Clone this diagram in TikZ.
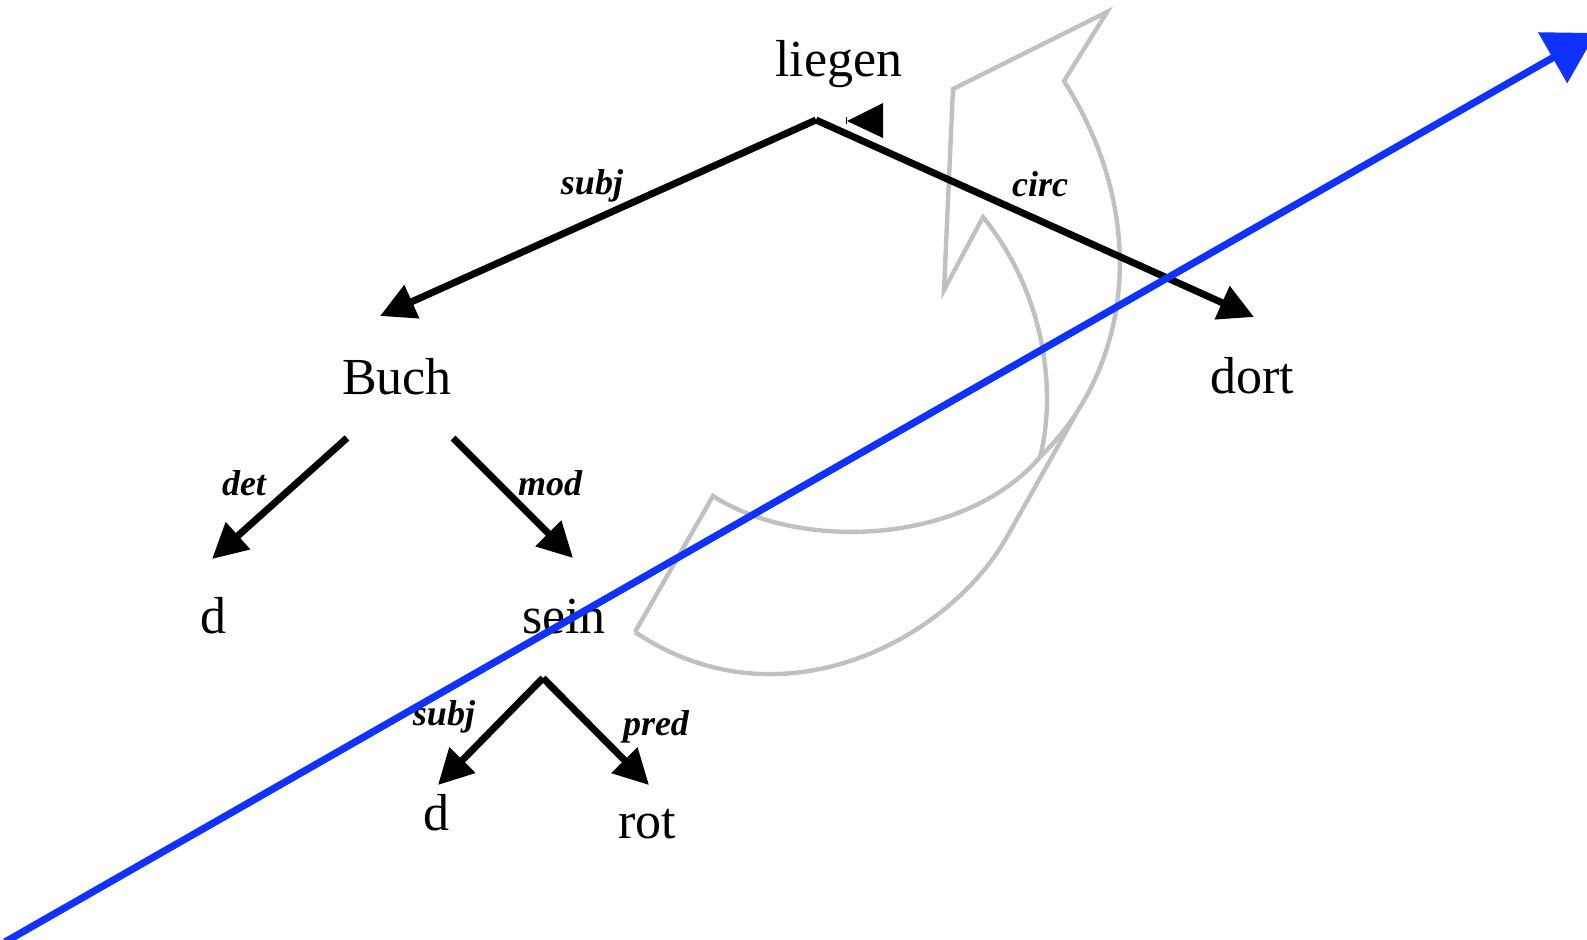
\documentclass[tikz,border=0pt]{standalone}
\usepackage{fontspec}
\setmainfont{Liberation Serif}
\usetikzlibrary{arrows.meta,positioning}
\definecolor{linkblue}{RGB}{16,50,255}
\definecolor{arcgray}{RGB}{192,192,192}

\begin{document}
\begin{tikzpicture}[x=0.5pt,y=-0.5pt,
  word/.style={anchor=base,inner sep=0pt,font=\fontsize{26}{30}\selectfont},
  rel/.style={anchor=base,inner sep=0pt,font=\fontsize{18}{21}\selectfont\bfseries\itshape},
  dep/.style={line width=3.5pt,-{Triangle[length=17.5pt,width=17.5pt]}},
  turn/.style={draw=arcgray,line width=2.2pt}]
  \useasboundingbox (0,0) rectangle (1587,939);
  \clip (0,0) rectangle (1587,939);

  % curved gray arrow (behind everything)
  \draw[turn] (635,632) -- (713,496)
    .. controls (800,552) and (965,545) .. (1040,457)
    .. controls (1130,370) and (1152,220) .. (1064,81)
    -- (1107,12) -- (953,89) -- (944,290) -- (983,217)
    .. controls (1050,300) and (1055,400) .. (1040,457);
  \draw[turn] (1076,414) -- (1008,535)
    .. controls (950,640) and (780,730) .. (635,632);

  % words
  \node[word] (liegen) at (839,76) {liegen};
  \node[word] (buch) at (397,394) {Buch};
  \node[word] (dort) at (1252,393) {dort};
  \node[word] (d1) at (213,633) {d};
  \node[word] (sein) at (564,633) {sein};
  \node[word] (d2) at (436,830) {d};
  \node[word] (rot) at (647,838) {rot};

  % arrow ends
  \coordinate (liegen-foot) at (816,120);
  \coordinate (buch-in) at (380,316);
  \coordinate (dort-in) at (1254,317);
  \coordinate (buch-left) at (347,438);
  \coordinate (buch-right) at (453,438);
  \coordinate (d1-in) at (212,559);
  \coordinate (sein-in) at (573,558);
  \coordinate (sein-foot) at (543,678);
  \coordinate (d2-in) at (438,785);
  \coordinate (rot-in) at (649,785);

  \draw[dep] (liegen-foot) -- (buch-in);
  \draw[dep] (liegen-foot) -- (dort-in);
  \draw[dep] (buch-left) -- (d1-in);
  \draw[dep] (buch-right) -- (sein-in);
  \draw[dep] (sein-foot) -- (d2-in);
  \draw[dep] (sein-foot) -- (rot-in);

  % stray tip next to liegen
  \fill (847,121) -- (883,103) -- (883,138) -- cycle;
  \draw[line width=0.4pt] (846,117) -- (846,124);

  % relation labels
  \node[rel] (subj1) at (592,194) {subj};
  \node[rel] (circ) at (1040,196) {circ};
  \node[rel] (det) at (244,495) {det};
  \node[rel] (mod) at (550,495) {mod};
  \node[rel] (subj2) at (444,725) {subj};
  \node[rel] (pred) at (656,735) {pred};

  % blue line
  \coordinate (blue-start) at (5,942);
  \coordinate (blue-end) at (1596,33);
  \draw[linkblue,line width=3.6pt,-{Triangle[length=25pt,width=28.5pt]}]
    (blue-start) -- (blue-end);
\end{tikzpicture}
\end{document}
